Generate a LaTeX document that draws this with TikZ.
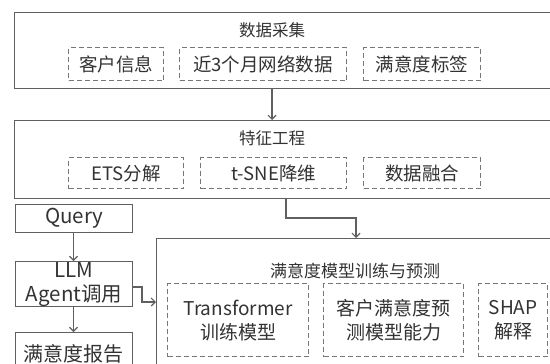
\documentclass[tikz,border=0pt]{standalone}
\usepackage{fontspec}
\setmainfont{Noto Sans CJK SC}
\usetikzlibrary{arrows.meta}
\definecolor{txt}{HTML}{333333}
\definecolor{lin}{HTML}{606060}
\definecolor{dsh}{HTML}{777777}
\tikzset{
  outer/.style={draw=lin, line width=1.3pt, anchor=north west, inner sep=0pt},
  dbox/.style={draw=dsh, line width=1.2pt, dash pattern=on 5pt off 3pt, anchor=north west, inner sep=0pt, text=txt, font=\fontsize{18.5}{24}\selectfont, align=center},
  lbox/.style={draw=lin, line width=1.3pt, anchor=north west, inner sep=0pt, text=txt, font=\fontsize{20.5}{24}\selectfont, align=center, minimum width=117pt},
  ttl/.style={text=txt, font=\fontsize{16.5}{20}\selectfont, inner sep=0pt},
  arr/.style={draw=lin, line width=1.1pt, -{Straight Barb[length=4pt,width=8pt]}},
}
\begin{document}
\begin{tikzpicture}[x=1pt,y=-1pt]
\useasboundingbox (0,0) rectangle (550,364);
\clip (0,0) rectangle (550,364);
\fill[white] (0,0) rectangle (550,364);
% top box
\node[outer, minimum width=546pt, minimum height=76pt] (t1) at (14,12) {};
\node[ttl] (t1t) at (272,30) {数据采集};
\node[dbox, minimum width=95pt, minimum height=33pt] (d11) at (68,47) {客户信息};
\node[dbox, minimum width=167pt, minimum height=33pt] (d12) at (179,47) {近3个月网络数据};
\node[dbox, minimum width=117pt, minimum height=33pt] (d13) at (363,47) {满意度标签};
% second box
\node[outer, minimum width=546pt, minimum height=78pt] (t2) at (14,120) {};
\node[ttl] (t2t) at (272,138) {特征工程};
\node[dbox, minimum width=115pt, minimum height=31pt] (d21) at (68,157) {ETS分解};
\node[dbox, minimum width=146pt, minimum height=31pt] (d22) at (200,157) {t-SNE降维};
\node[dbox, minimum width=117pt, minimum height=31pt] (d23) at (363,157) {数据融合};
% bottom box
\node[outer, minimum width=404pt, minimum height=140pt] (b3) at (156,238) {};
\node[ttl, font=\fontsize{17}{20}\selectfont] (b3t) at (355,271) {满意度模型训练与预测};
\node[dbox, minimum width=141pt, minimum height=73pt, font=\fontsize{19}{24}\selectfont] (d31) at (167,283) {Transformer\\训练模型};
\node[dbox, minimum width=140pt, minimum height=73pt, font=\fontsize{19}{24}\selectfont] (d32) at (323,283) {客户满意度预\\测模型能力};
\node[dbox, minimum width=69pt, minimum height=73pt, font=\fontsize{19}{24}\selectfont] (d33) at (478,283) {SHAP\\解释};
% left column
\node[lbox, minimum height=28pt] (q) at (15,204) {Query};
\node[lbox, minimum height=45pt, font=\fontsize{20.5}{24}\selectfont] (llm) at (15,261) {LLM\\Agent调用};
\node[lbox, minimum height=50pt, anchor=north west] (rep) at (15,332) {};
\node[text=txt, font=\fontsize{20}{24}\selectfont, inner sep=0pt] (rept) at (73.5,354) {满意度报告};
% connectors
\draw[arr] (t1.south -| t1t) -- (t2.north -| t1t);
\coordinate (c1) at (286,218);
\coordinate (c2) at (356,218);
\draw[arr] (t2.south -| c1) -- (c1) -- (c2) -- (b3.north -| c2);
\coordinate (ax) at (73.5,0);
\draw[arr] (q.south -| ax) -- (llm.north -| ax);
\draw[arr] (llm.south -| ax) -- (rep.north -| ax);
\coordinate (e1) at (142,287);
\coordinate (e2) at (142,302);
\draw[arr] (llm.east |- e1) -- (e1) -- (e2) -- (b3.west |- e2);
\end{tikzpicture}
\end{document}
